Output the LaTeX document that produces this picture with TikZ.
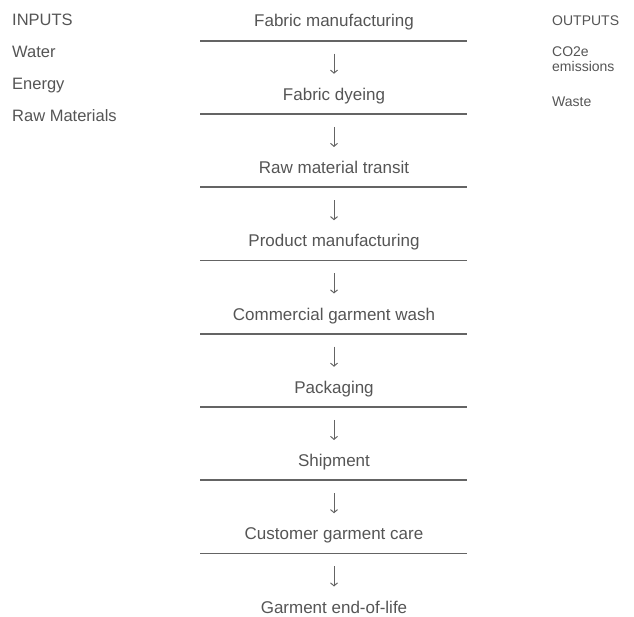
\documentclass[tikz,border=0pt]{standalone}
\usepackage{fontspec}
\setmainfont{Liberation Sans}
\usetikzlibrary{arrows.meta}
\definecolor{txtgray}{RGB}{85,85,85}
\definecolor{rulegray}{RGB}{100,100,100}
\tikzset{
	stage/.style={anchor=base,text=txtgray,inner sep=0pt,font=\fontsize{17}{20}\selectfont},
	inlist/.style={anchor=base west,text=txtgray,inner sep=0pt,font=\fontsize{16.5}{19}\selectfont},
	outlist/.style={anchor=base west,text=txtgray,inner sep=0pt,align=left,font=\fontsize{14}{15}\selectfont},
	rule/.style={rulegray,line width=1.7pt},
	flow/.style={rulegray,line width=1pt,-{Straight Barb[length=3pt,width=7pt]},shorten <=13pt,shorten >=26.5pt}
}
\begin{document}
\begin{tikzpicture}[x=1pt,y=-1pt]
	\useasboundingbox (0,0) rectangle (634,617);
	% inputs
	\node[inlist] (in) at (12,26) {INPUTS};
	\node[inlist] (water) at (12,58) {Water};
	\node[inlist] (energy) at (12,90) {Energy};
	\node[inlist] (raw) at (12,122) {Raw Materials};
	% outputs
	\node[outlist] (out) at (552,26) {OUTPUTS};
	\node[outlist] (co2) at (552,72) {CO2e\\emissions};
	\node[outlist] (waste) at (552,107) {Waste};
	% stages
	\node[stage] (s0) at (334,27) {Fabric manufacturing};
	\node[stage] (s1) at (334,100.25) {Fabric dyeing};
	\node[stage] (s2) at (334,173.5) {Raw material transit};
	\node[stage] (s3) at (334,246.75) {Product manufacturing};
	\node[stage] (s4) at (334,320) {Commercial garment wash};
	\node[stage] (s5) at (334,393.25) {Packaging};
	\node[stage] (s6) at (334,466.5) {Shipment};
	\node[stage] (s7) at (334,539.75) {Customer garment care};
	\node[stage] (s8) at (334,613) {Garment end-of-life};
	% rules and arrows
	\foreach \i/\j in {0/1,1/2,2/3,3/4,4/5,5/6,6/7,7/8}{
		\coordinate (r\i) at (334,40.7+73.25*\i);
		\draw[rule] ([xshift=-134pt]r\i) -- ([xshift=133pt]r\i);
		\draw[flow] (r\i) -- (s\j.base);
	}
\end{tikzpicture}
\end{document}
